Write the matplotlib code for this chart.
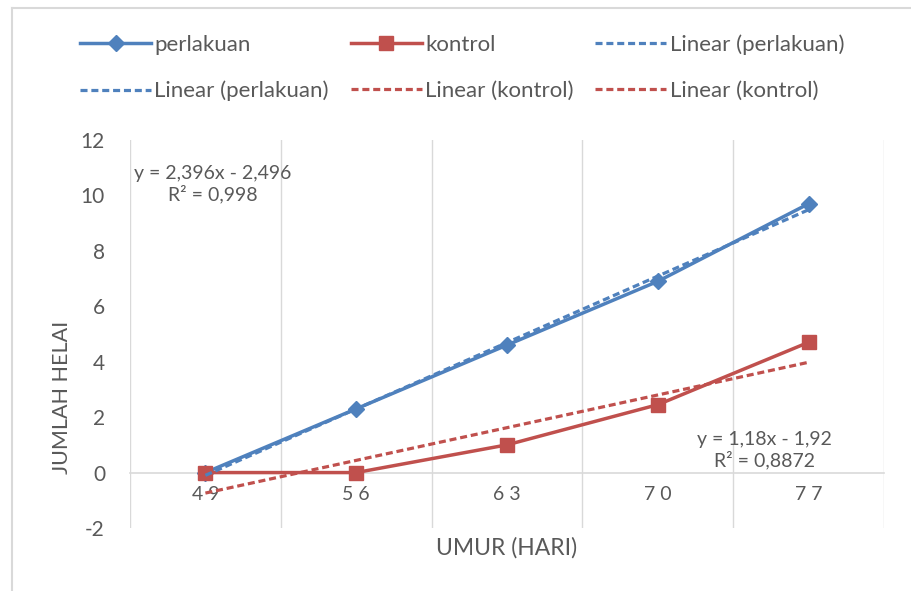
import matplotlib.pyplot as plt
from matplotlib.lines import Line2D

plt.rcParams['font.family'] = ['Lato', 'DejaVu Sans']
plt.rcParams['axes.unicode_minus'] = False

umur = ['49', '56', '63', '70', '77']
perlakuan = [0, 2.3, 4.6, 6.9, 9.7]
kontrol = [0, 0, 1, 2.45, 4.7]

# trendline coefficients as printed on the chart
tr_perlakuan = (2.396, -2.496)
tr_kontrol = (1.18, -1.92)

BLUE = '#4F81BD'
RED = '#C0504D'
GRAY = '#595959'
GRID = '#D9D9D9'

fig = plt.figure(figsize=(9.11, 5.91), dpi=100)
ax = fig.add_axes([130 / 911, 1 - 528 / 591, (884 - 130) / 911, (528 - 140) / 591])

x = list(range(1, len(umur) + 1))
fit_p = [tr_perlakuan[0] * i + tr_perlakuan[1] for i in x]
fit_k = [tr_kontrol[0] * i + tr_kontrol[1] for i in x]

ax.plot(x, perlakuan, color=BLUE, lw=2.5, marker='D', ms=8, zorder=3)
ax.plot(x, kontrol, color=RED, lw=2.5, marker='s', ms=10, zorder=3)
ax.plot(x, fit_p, color=BLUE, lw=2.3, ls=(0, (2.2, 1.2)), zorder=4)
ax.plot(x, fit_k, color=RED, lw=2.3, ls=(0, (2.2, 1.2)), zorder=4)

ax.set_xlim(0.5, 5.5)
ax.set_ylim(-2, 12)
ax.set_yticks(range(-2, 13, 2))
ax.set_xticks(x)
ax.set_xticklabels([' '.join(u) for u in umur])
for b in [i + 0.5 for i in range(0, 6)]:
    ax.axvline(b, color=GRID, lw=1, zorder=0)

for s in ['top', 'right', 'left']:
    ax.spines[s].set_visible(False)
ax.spines['bottom'].set_position(('data', 0))
ax.spines['bottom'].set_color(GRID)
ax.spines['bottom'].set_linewidth(1.2)
ax.tick_params(length=0, labelcolor=GRAY)
ax.tick_params(axis='x', pad=10, labelsize=14)
ax.tick_params(axis='y', pad=18, labelsize=15)

fig.text(507 / 911, 1 - 548 / 591, 'UMUR (HARI)', ha='center', va='center', fontsize=16.5, color=GRAY)
fig.text(62 / 911, 1 - 397 / 591, 'JUMLAH HELAI', ha='center', va='center', rotation=90,
         fontsize=15.5, color=GRAY)

ax.text(1.05, 10.4, 'y = 2,396x - 2,496\nR² = 0,998', ha='center', va='center',
        fontsize=14, color=GRAY, linespacing=1.2)
ax.text(4.71, 0.8, 'y = 1,18x - 1,92\nR² = 0,8872', ha='center', va='center',
        fontsize=14, color=GRAY, linespacing=1.2)

h_p = Line2D([], [], color=BLUE, lw=2.5, marker='D', ms=8)
h_k = Line2D([], [], color=RED, lw=2.5, marker='s', ms=10)
h_lp = Line2D([], [], color=BLUE, lw=2.3, ls=(0, (2.2, 1.2)))
h_lk = Line2D([], [], color=RED, lw=2.3, ls=(0, (2.2, 1.2)))
handles = [h_p, h_lp, h_k, h_lk, h_lp, h_lk]
labels = ['perlakuan', 'Linear (perlakuan)', 'kontrol', 'Linear (kontrol)',
          'Linear (perlakuan)', 'Linear (kontrol)']
fig.legend(handles, labels, ncol=3, loc='center', mode='expand',
           bbox_to_anchor=(80 / 911, 1 - 113 / 591, 764 / 911, 90 / 591),
           borderaxespad=0, borderpad=0,
           frameon=False, fontsize=16, handlelength=3.2, handletextpad=0.15,
           labelspacing=1.15, labelcolor=GRAY)

fig.add_artist(Line2D([12 / 911, 1], [1 - 8 / 591] * 2, color=GRID, lw=1.5))
fig.add_artist(Line2D([12 / 911] * 2, [0, 1 - 8 / 591], color=GRID, lw=1.5))

fig.savefig('out.png', dpi=100)
